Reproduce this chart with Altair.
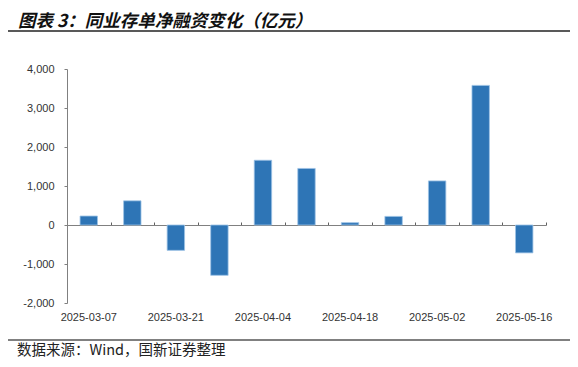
import altair as alt
import pandas as pd

dates = ["2025-03-07", "2025-03-14", "2025-03-21", "2025-03-28", "2025-04-04",
         "2025-04-11", "2025-04-18", "2025-04-25", "2025-05-02", "2025-05-09", "2025-05-16"]
values = [230, 620, -650, -1290, 1660, 1450, 60, 220, 1130, 3580, -715]
label_dates = ["2025-03-07", "2025-03-21", "2025-04-04", "2025-04-18", "2025-05-02", "2025-05-16"]
y_ticks = [-2000, -1000, 0, 1000, 2000, 3000, 4000]

title_text = "图表 3：同业存单净融资变化（亿元）"
source_text = "数据来源：Wind，国新证券整理"

df = pd.DataFrame({"date": dates, "value": values})

W, H = 479, 234
PL, PT = 59, 61

yscale = alt.Scale(domain=[-2000, 4000], nice=False, zero=False)
lab_font = "Liberation Sans"

y_axis = alt.Axis(values=y_ticks, grid=False, domainColor="#808080", tickColor="#808080",
                  tickSize=3, labelPadding=10, labelFont=lab_font, labelFontSize=11,
                  labelColor="#333333", title=None, labelOverlap=False,
                  labelExpr="replace(format(datum.value, ','), '\u2212', '-')")

bars = alt.Chart(df).mark_bar(color="#2E75B6", stroke="#9DC3E6", strokeWidth=0.8).encode(
    x=alt.X("date:N", sort=dates,
            scale=alt.Scale(paddingInner=0.6, paddingOuter=0.3),
            axis=alt.Axis(orient="bottom", values=label_dates, labelAngle=0, domain=False,
                          ticks=False, labelPadding=8, labelFont=lab_font, labelFontSize=11,
                          labelColor="#333333", title=None)),
    y=alt.Y("value:Q", scale=yscale, axis=y_axis),
)

zero_axis = alt.Chart(df).mark_point(opacity=0).encode(
    x=alt.X("date:N", sort=dates, scale=alt.Scale(paddingInner=0, paddingOuter=0),
            axis=alt.Axis(orient="top", offset=-(H * 4 / 6), labels=False, title=None,
                          tickBand="extent", tickSize=3, domainColor="#808080",
                          tickColor="#606060", domainWidth=1.2)),
    y=alt.Y("value:Q", scale=yscale, axis=y_axis),
)

title = alt.Chart(pd.DataFrame({"t": [title_text]})).mark_text(
    align="left", baseline="alphabetic", font="Noto Sans CJK SC", fontSize=17.5,
    fontWeight="bold", fontStyle="italic", color="#111111"
).encode(x=alt.value(-49), y=alt.value(-42), text="t:N")

top_line = alt.Chart(pd.DataFrame({"a": [0]})).mark_rule(color="#222222", strokeWidth=1.5).encode(
    x=alt.value(-59), x2=alt.value(506), y=alt.value(-38))

bottom_line = alt.Chart(pd.DataFrame({"a": [0]})).mark_rule(color="#808080", strokeWidth=1.8).encode(
    x=alt.value(-59), x2=alt.value(506), y=alt.value(271))

source = alt.Chart(pd.DataFrame({"t": [source_text]})).mark_text(
    align="left", baseline="middle", font="Noto Sans CJK SC", fontSize=14.5, color="#222222"
).encode(x=alt.value(-50), y=alt.value(282), text="t:N")

chart = alt.layer(zero_axis, bars, title, top_line, bottom_line, source).resolve_scale(
    x="independent"
).resolve_axis(x="independent").properties(
    width=W, height=H,
    autosize=alt.AutoSizeParams(type="none"),
    padding={"left": PL, "top": PT, "right": 562 - PL - W, "bottom": 351 - PT - H},
).configure_view(stroke=None)

chart.save("out.html", embed_options={"renderer": "svg", "actions": False})
